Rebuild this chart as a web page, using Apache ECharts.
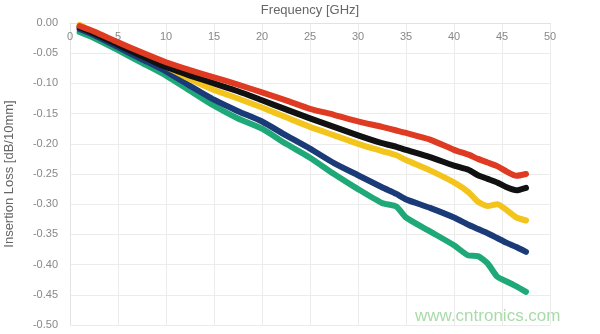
<!DOCTYPE html>
<html>
<head>
<meta charset="utf-8">
<script src="https://cdn.jsdelivr.net/npm/echarts@6/dist/echarts.min.js"></script>
<style>
html,body{margin:0;padding:0;background:#fff;}
#chart{width:600px;height:334px;}
</style>
</head>
<body>
<div id="chart"></div>
<script>
const freq = [1, 2.5, 5, 7.5, 10, 12.5, 15, 17.5, 20, 22.5, 25, 27.5, 30, 32.5, 34, 35, 37.5, 40, 41.5, 42.5, 43.5, 44.5, 45.5, 46.5, 47.5];
const redLoss = [-0.005, -0.014, -0.032, -0.049, -0.065, -0.078, -0.090, -0.102, -0.115, -0.128, -0.142, -0.152, -0.163, -0.172, -0.178, -0.182, -0.193, -0.210, -0.218, -0.225, -0.231, -0.237, -0.246, -0.253, -0.250];
const blackLoss = [-0.007, -0.017, -0.036, -0.055, -0.073, -0.087, -0.100, -0.113, -0.128, -0.143, -0.158, -0.172, -0.186, -0.199, -0.205, -0.210, -0.222, -0.236, -0.243, -0.252, -0.258, -0.264, -0.272, -0.277, -0.273];
const yellowLoss = [-0.003, -0.015, -0.035, -0.054, -0.072, -0.093, -0.111, -0.125, -0.140, -0.156, -0.172, -0.186, -0.200, -0.212, -0.219, -0.227, -0.244, -0.264, -0.280, -0.296, -0.303, -0.300, -0.310, -0.322, -0.327];
const blueLoss = [-0.010, -0.020, -0.040, -0.060, -0.080, -0.104, -0.127, -0.146, -0.163, -0.186, -0.208, -0.232, -0.252, -0.272, -0.283, -0.292, -0.306, -0.322, -0.334, -0.341, -0.348, -0.356, -0.364, -0.371, -0.379];
const greenLoss = [-0.015, -0.025, -0.045, -0.066, -0.087, -0.112, -0.137, -0.158, -0.175, -0.200, -0.223, -0.250, -0.275, -0.298, -0.304, -0.322, -0.345, -0.368, -0.385, -0.386, -0.398, -0.420, -0.428, -0.436, -0.445];

const seriesDefs = [
  {name: 'green', values: greenLoss, color: '#1fa878'},
  {name: 'blue', values: blueLoss, color: '#1b3a78'},
  {name: 'yellow', values: yellowLoss, color: '#f3c41c'},
  {name: 'black', values: blackLoss, color: '#111111'},
  {name: 'red', values: redLoss, color: '#de3b22'}
];

const chart = echarts.init(document.getElementById('chart'));
chart.setOption({
  animation: false,
  backgroundColor: '#ffffff',
  grid: {left: 70, right: 50, top: 23, bottom: 9, containLabel: false, outerBoundsMode: 'none'},
  xAxis: {
    type: 'value', position: 'top', min: 0, max: 50, interval: 5,
    name: 'Frequency [GHz]', nameLocation: 'middle', nameGap: 6,
    nameTextStyle: {color: '#666', fontSize: 13, fontFamily: 'Liberation Sans'},
    axisLine: {show: true, lineStyle: {color: '#e2e2e2'}},
    axisTick: {show: false},
    axisLabel: {inside: true, margin: 8, color: '#888', fontSize: 11, fontFamily: 'Liberation Sans'},
    splitLine: {show: true, lineStyle: {color: '#ececec'}}
  },
  yAxis: {
    type: 'value', min: -0.5, max: 0, interval: 0.05,
    name: 'Insertion Loss [dB/10mm]', nameLocation: 'middle', nameGap: 54,
    nameTextStyle: {color: '#666', fontSize: 13, fontFamily: 'Liberation Sans'},
    axisLine: {show: true, lineStyle: {color: '#e2e2e2'}},
    axisTick: {show: false},
    axisLabel: {margin: 12, color: '#888', fontSize: 11, fontFamily: 'Liberation Sans',
      formatter: v => (Math.abs(v) < 1e-9 ? 0 : v).toFixed(2)},
    splitLine: {show: true, lineStyle: {color: '#ececec'}}
  },
  series: seriesDefs.map(s => ({
    name: s.name, type: 'line', showSymbol: false, smooth: 0.2,
    data: freq.map((f, i) => [f, s.values[i]]),
    lineStyle: {color: s.color, width: 6, cap: 'round', join: 'round'},
    itemStyle: {color: s.color}
  })),
  graphic: [{
    type: 'text', left: 415, top: 308,
    style: {text: 'www.cntronics.com', fill: '#a9dba9', font: '17px "Liberation Sans"'}
  }]
});
</script>
</body>
</html>
